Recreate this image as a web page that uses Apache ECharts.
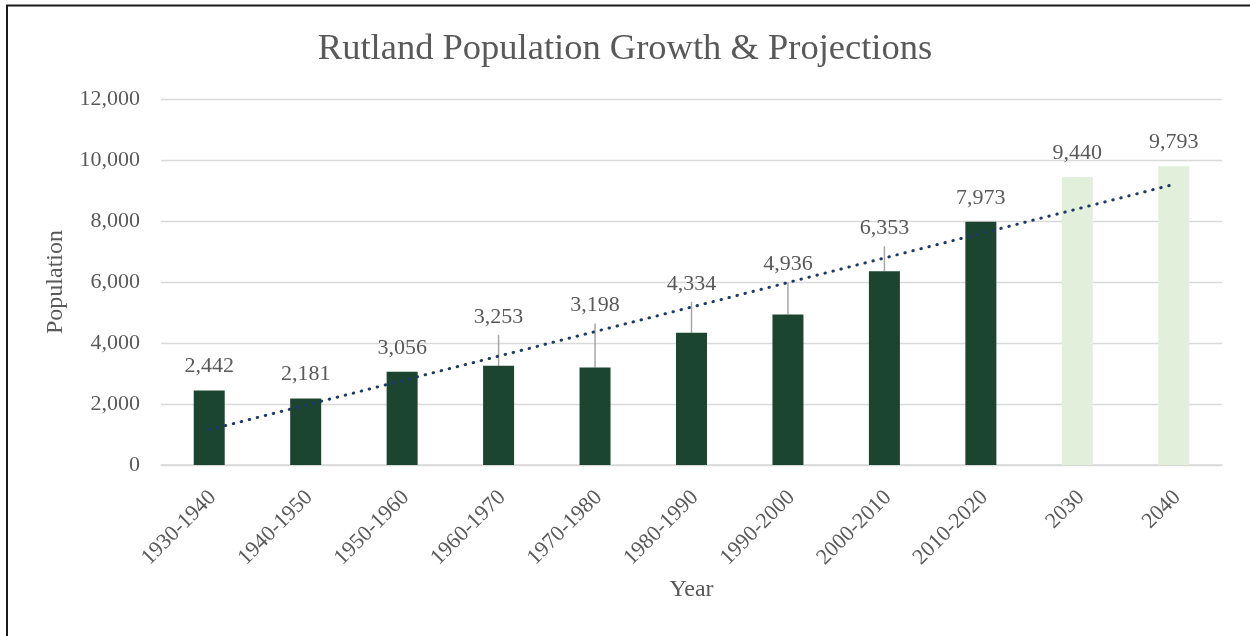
<!DOCTYPE html>
<html>
<head>
<meta charset="utf-8">
<title>Rutland Population Growth &amp; Projections</title>
<script src="https://cdn.jsdelivr.net/npm/echarts@6/dist/echarts.min.js"></script>
<style>
  html, body { margin: 0; padding: 0; background: #ffffff; }
  #chart { width: 1250px; height: 636px; }
</style>
</head>
<body>
<div id="chart"></div>
<script>
// Census decades and their population
const censusPeriods = ['1930-1940', '1940-1950', '1950-1960', '1960-1970', '1970-1980',
                       '1980-1990', '1990-2000', '2000-2010', '2010-2020'];
const censusPopulation = [2442, 2181, 3056, 3253, 3198, 4334, 4936, 6353, 7973];

// Projected years and population
const projectionYears = ['2030', '2040'];
const projectedPopulation = [9440, 9793];

// Value axis ticks
const yTicks = [0, 2000, 4000, 6000, 8000, 10000, 12000];

const categories = censusPeriods.concat(projectionYears);
const population = censusPopulation.concat(projectedPopulation);

// Linear least-squares trend across all bars
function linearFit(values) {
  const n = values.length;
  let sx = 0, sy = 0, sxy = 0, sxx = 0;
  values.forEach((v, i) => { sx += i; sy += v; sxy += i * v; sxx += i * i; });
  const slope = (n * sxy - sx * sy) / (n * sxx - sx * sx);
  const intercept = (sy - slope * sx) / n;
  return values.map((_, i) => intercept + slope * i);
}
const trend = linearFit(population);

// Extra upward shift (px) of crowded value labels, joined to their bar by a leader line
const labelLift = [0, 0, 0, 25, 38, 25, 26, 19, 0, 0, 0];

const TEXT = '#595959';
const FONT = '"Liberation Serif", "DejaVu Serif", serif';
const DARK = '#1b4530';
const LIGHT = '#e2efda';

const barData = population.map((v, i) => ({
  value: v,
  itemStyle: { color: i < censusPopulation.length ? DARK : LIGHT },
  label: { offset: [0, -labelLift[i]] }
}));

const chart = echarts.init(document.getElementById('chart'), null, { renderer: 'canvas' });

chart.setOption({
  backgroundColor: '#ffffff',
  animation: false,
  title: {
    text: 'Rutland Population Growth & Projections',
    left: 'center',
    top: 26,
    textStyle: { fontFamily: FONT, fontSize: 36.5, fontWeight: 'normal', color: TEXT }
  },
  graphic: [{
    type: 'rect',
    shape: { x: 7, y: 5.5, width: 1400, height: 800 },
    style: { fill: null, stroke: '#1a1a1a', lineWidth: 2 },
    silent: true
  }],
  grid: { left: 161, right: 28, top: 99, bottom: 171, containLabel: false },
  xAxis: {
    type: 'category',
    data: categories,
    name: 'Year',
    nameLocation: 'middle',
    nameGap: 113,
    nameTextStyle: { fontFamily: FONT, fontSize: 24, color: TEXT },
    axisLine: { lineStyle: { color: '#d9d9d9', width: 1.5 } },
    axisTick: { show: false },
    axisLabel: {
      rotate: 45,
      margin: 17,
      verticalAlign: 'top',
      padding: [0, 6, 0, 0],
      fontFamily: FONT, fontSize: 22, color: TEXT
    }
  },
  yAxis: {
    type: 'value',
    min: yTicks[0],
    max: yTicks[yTicks.length - 1],
    interval: yTicks[1] - yTicks[0],
    name: 'Population',
    nameLocation: 'middle',
    nameGap: 93,
    nameRotate: 90,
    nameTextStyle: { fontFamily: FONT, fontSize: 24, color: TEXT },
    axisLine: { show: false },
    axisTick: { show: false },
    splitLine: { lineStyle: { color: '#d9d9d9', width: 1.3 } },
    axisLabel: {
      margin: 21,
      fontFamily: FONT, fontSize: 22, color: TEXT,
      formatter: v => v.toLocaleString('en-US')
    }
  },
  series: [
    {
      type: 'custom',
      name: 'leaders',
      z: 1,
      silent: true,
      data: population.map((v, i) => [i, v]),
      renderItem: (params, api) => {
        const i = api.value(0);
        const lift = labelLift[i];
        if (!lift) return null;
        const p = api.coord([i, api.value(1)]);
        return {
          type: 'line',
          shape: { x1: p[0], y1: p[1], x2: p[0], y2: p[1] - lift - 6 },
          style: { stroke: '#a6a6a6', lineWidth: 1.5 }
        };
      }
    },
    {
      type: 'bar',
      name: 'Population',
      z: 2,
      barWidth: 31,
      data: barData,
      label: {
        show: true,
        position: 'top',
        distance: 13,
        fontFamily: FONT, fontSize: 22, color: TEXT,
        formatter: p => p.value.toLocaleString('en-US')
      }
    },
    {
      type: 'line',
      name: 'Trend',
      z: 3,
      data: trend,
      symbol: 'none',
      silent: true,
      lineStyle: { color: '#203864', width: 3, type: [0.5, 7.75], cap: 'round' }
    }
  ]
});
</script>
</body>
</html>
